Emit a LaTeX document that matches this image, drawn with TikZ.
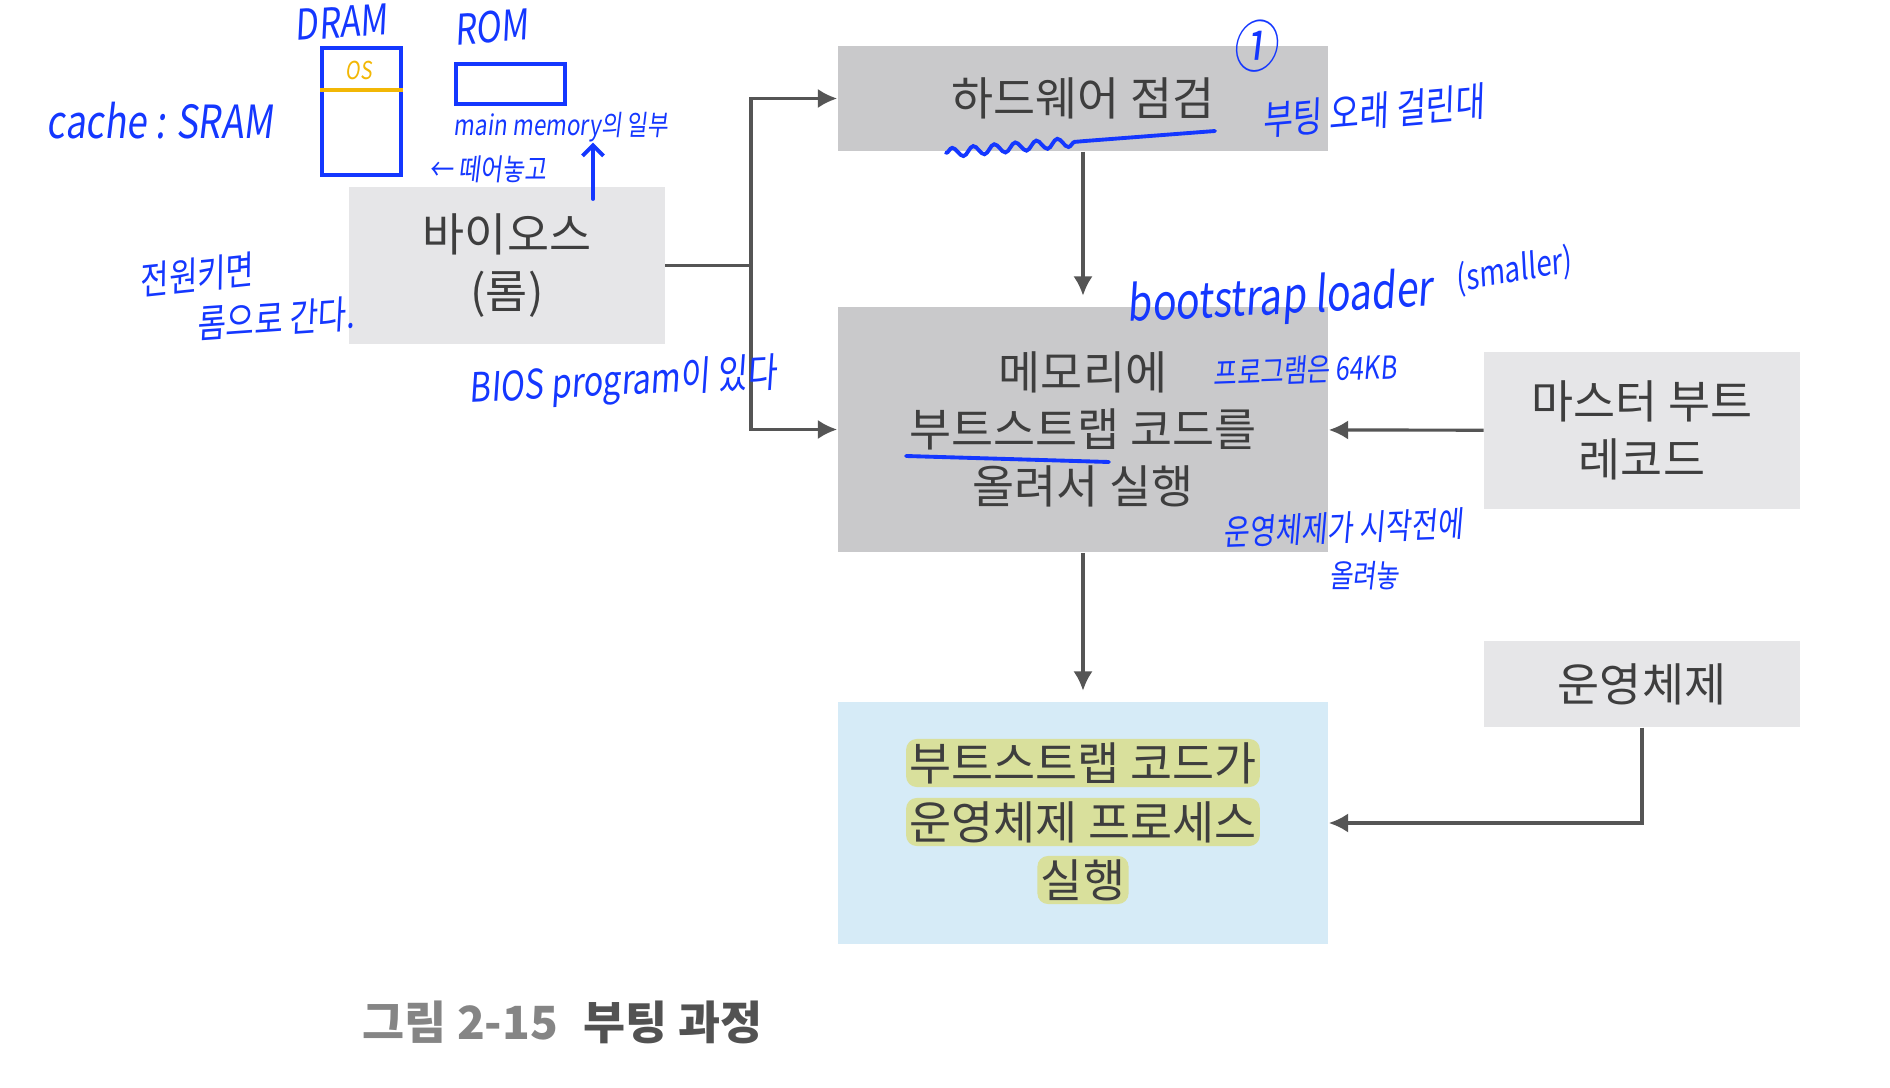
\documentclass[tikz,border=0pt]{standalone}
\usepackage{fontspec}
\setmainfont{Noto Sans CJK KR}
\newfontfamily\hand[FakeSlant=0.12,FakeStretch=0.8]{Noto Sans CJK KR}
\usetikzlibrary{arrows.meta,decorations.pathmorphing}

\definecolor{boxdark}{HTML}{C9C9CB}
\definecolor{boxlight}{HTML}{E6E6E8}
\definecolor{boxblue}{HTML}{D6EBF7}
\definecolor{hl}{HTML}{D9E09C}
\definecolor{txt}{HTML}{3E3E3E}
\definecolor{linegray}{HTML}{555555}
\definecolor{pen}{HTML}{1437FF}
\definecolor{penorange}{HTML}{F2B705}

\tikzset{
  box/.style={fill=boxdark, text=txt, align=center, inner sep=0pt,
    font=\fontsize{13}{16.3}\selectfont, minimum width=4.9cm},
  sidebox/.style={box, fill=boxlight, minimum width=3.15cm},
  hilite/.style={fill=hl, text=txt, rounded corners=3pt, inner xsep=1pt,
    inner ysep=0pt, minimum height=0.48cm, font=\fontsize{13}{16.3}\selectfont},
  conn/.style={draw=linegray, line width=0.9pt},
  note/.style={text=pen, inner sep=0pt, align=center,
    font=\hand\fontsize{#1}{#1}\selectfont},
  note/.default=10,
  penline/.style={draw=pen, line width=1.1pt, line cap=round},
}

\begin{document}
\begin{tikzpicture}[>={Latex[length=5.5pt,width=5.5pt]}, x=0.01cm, y=-0.01cm]
  \useasboundingbox (0,0) rectangle (1890,1088);
  % boxes
  \node[sidebox, minimum height=1.57cm] (bios) at (507,265.5) {바이오스\\(롬)};
  \node[box, minimum height=1.05cm] (hw) at (1083,98.5) {하드웨어 점검};
  \node[box, minimum height=2.45cm] (mem) at (1083,429.5) {메모리에\\부트스트랩 코드를\\올려서 실행};
  \node[sidebox, minimum height=1.57cm] (mbr) at (1642,430.5) {마스터 부트\\레코드};
  \node[sidebox, minimum height=0.86cm] (os) at (1642,684) {운영체제};
  \node[box, fill=boxblue, minimum height=2.42cm] (boot) at (1083,823) {};
  \node[hilite] (b1) at (1083,763) {부트스트랩 코드가};
  \node[hilite] (b2) at (1083,822) {운영체제 프로세스};
  \node[hilite] (b3) at (1083,880) {실행};
  \node[anchor=west, font=\bfseries\fontsize{13}{15}\selectfont] (cap) at (350,1022)
    {\textcolor{black!48}{그림 2-15}\,\, \textcolor{black!68}{부팅 과정}};

  % connectors
  \coordinate (j) at (751,265.5);
  \draw[conn] (bios.east) -- (j);
  \draw[conn, ->] (j) |- (hw.west);
  \draw[conn, ->] (j) |- (mem.west);
  \draw[conn, ->, shorten >=3pt] (hw) -- (mem);
  \draw[conn, ->, shorten >=3pt] (mem) -- (boot);
  \draw[conn, ->] (mbr) -- (mem);
  \draw[conn, ->] (os.south) |- (boot.east);

  % handwritten notes
  \node[note=12, rotate=4] (dramlbl) at (341,22) {DRAM};
  \node[draw=pen, line width=1.1pt, minimum width=0.79cm, minimum height=1.27cm] (dram) at (361.5,111.5) {};
  \draw[penorange, line width=0.9pt] (dram.west |- 0,90) -- (dram.east |- 0,90);
  \node[note=7, text=penorange] (oslbl) at (359,70) {OS};
  \node[note=12, rotate=4] (romlbl) at (491,27) {ROM};
  \node[draw=pen, line width=1.1pt, minimum width=1.09cm, minimum height=0.40cm] (rom) at (510.5,84) {};
  \node[note=13] (cache) at (160,121) {cache : SRAM};
  \node[note=8] (mm) at (561,127) {main memory의 일부};
  \node[note=8.5] (split) at (488,169) {← 떼어놓고};
  \coordinate (up) at (593,199);
  \draw[penline, -{Straight Barb[length=3pt,width=6pt]}] (up) -- (up |- mm.south);
  \node[note=11, rotate=6] (pw1) at (196,275) {전원키면};
  \node[note=11, rotate=4] (pw2) at (275,319) {롬으로 간다.};
  \node[note=11.5, rotate=3] (biosnote) at (623,383) {BIOS program이 있다};
  \node[note=16] (one) at (1255,46) {①};
  \node[note=11.5, rotate=5] (slow) at (1373,111) {부팅 오래 걸린대};
  \draw[penline, decorate, decoration={snake, amplitude=1.3pt, segment length=6pt}] (946,153) -- (1085,141);
  \draw[penline] (1085,141) -- (1215,131);
  \node[note=14, anchor=base west, rotate=3] (bsl) at (1127,322) {bootstrap loader};
  \node[note=10, anchor=base west, rotate=10] (small) at (1457,292) {(smaller)};
  \node[note=9, rotate=2] (prog) at (1305,370) {프로그램은 64KB};
  \draw[penline] (906,456) -- (1109,462);
  \node[note=10, rotate=2] (before1) at (1343,528) {운영체제가 시작전에};
  \node[note=9] (before2) at (1364,576) {올려놓};
\end{tikzpicture}
\end{document}
